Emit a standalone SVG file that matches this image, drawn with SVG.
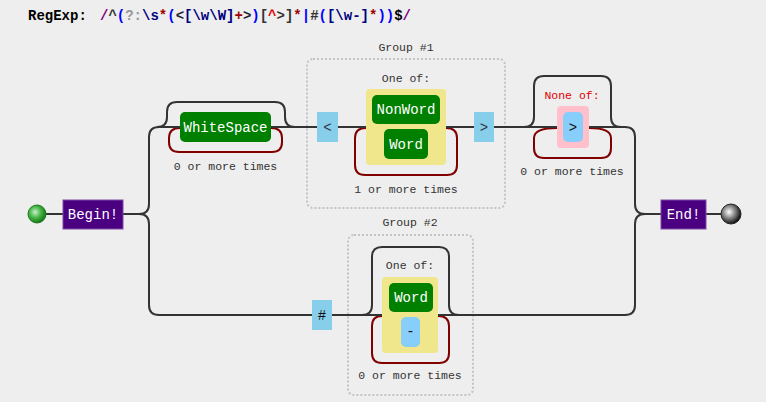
<svg xmlns="http://www.w3.org/2000/svg" width="766" height="402" viewBox="0 0 766 402">
<defs>
<radialGradient id="gStart" cx="0.4" cy="0.4" r="0.6"><stop offset="0" stop-color="#c8f0c8"/><stop offset="0.5" stop-color="#4cb84c"/><stop offset="1" stop-color="#137a13"/></radialGradient>
<radialGradient id="gEnd" cx="0.4" cy="0.4" r="0.6"><stop offset="0" stop-color="#ffffff"/><stop offset="0.5" stop-color="#888"/><stop offset="1" stop-color="#111"/></radialGradient>
<style>
.ln{fill:none;stroke:#333;stroke-width:2}
.lp{fill:none;stroke:#800000;stroke-width:2}
.grp{fill:none;stroke:#c4c4c4;stroke-width:2;stroke-dasharray:2 2}
.lbl{font-family:"Liberation Mono",monospace;font-size:14px;fill:#fff;text-anchor:middle}
.sm{font-family:"Liberation Mono",monospace;font-size:11.5px;fill:#333;text-anchor:middle}
.ch{font-family:"Liberation Mono",monospace;font-size:14px;fill:#334;text-anchor:middle}
.hd{font-family:"Liberation Mono",monospace;font-size:14px;font-weight:bold}
.term{fill:#4b0082;stroke:#7a4aa0;stroke-width:1}
.grn{fill:#008000}
.sky{fill:#87ceeb}
.lsky{fill:#87cefa}
.kh{fill:#f0e68c}
</style>
</defs>
<rect width="766" height="402" fill="#eeeeee"/>
<text class="hd" x="28" y="20" fill="#000">RegExp:</text>
<text class="hd" x="100" y="20"><tspan fill="#800080">/</tspan><tspan fill="#333">^</tspan><tspan fill="#0000ff">(</tspan><tspan fill="#999">?:</tspan><tspan fill="#000080">\s</tspan><tspan fill="#a00000">*</tspan><tspan fill="#0000ff">(</tspan><tspan fill="#223">&lt;</tspan><tspan fill="#000080">[\w\W]</tspan><tspan fill="#a00000">+</tspan><tspan fill="#223">&gt;</tspan><tspan fill="#0000ff">)</tspan><tspan fill="#333">[</tspan><tspan fill="#e00000">^</tspan><tspan fill="#333">&gt;]</tspan><tspan fill="#a00000">*</tspan><tspan fill="#0000ff">|</tspan><tspan fill="#333">#</tspan><tspan fill="#0000ff">(</tspan><tspan fill="#000080">[\w-]</tspan><tspan fill="#a00000">*</tspan><tspan fill="#0000ff">))</tspan><tspan fill="#000">$</tspan><tspan fill="#800080">/</tspan></text>

<g id="group1"><rect class="grp" x="307" y="59" width="198" height="149" rx="6"/><text class="sm" x="406" y="51">Group #1</text></g>
<g id="group2"><rect class="grp" x="348" y="235" width="125" height="160" rx="6"/><text class="sm" x="410" y="226">Group #2</text></g>

<g id="connectors">
<path class="lp" d="M271,128 Q282,128 282,138 V142 Q282,152 272,152 H179 Q169,152 169,142 V138 Q169,128 180,128"/>
<path class="lp" d="M446,128 Q457,128 457,138 V165 Q457,175 447,175 H365 Q355,175 355,165 V138 Q355,128 366,128"/>
<path class="lp" d="M589,128 Q611,128 611,138 V148 Q611,158 601,158 H544 Q534,158 534,148 V138 Q534,128 557,128"/>
<path class="lp" d="M438,316 Q449,316 449,326 V353 Q449,363 439,363 H382 Q372,363 372,353 V326 Q372,316 382,316"/>
<path class="ln" d="M46,214 H63"/>
<path class="ln" d="M123,214 H139 Q149,214 149,204 V137 Q149,127 159,127 H180"/>
<path class="ln" d="M139,214 Q149,214 149,224 V305 Q149,315 159,315 H312"/>
<path class="ln" d="M157,127 Q167,127 167,117 V112 Q167,102 177,102 H275 Q285,102 285,112 V117 Q285,127 295,127"/>
<path class="ln" d="M271,127 H317 M338,127 H366 M446,127 H474 M494,127 H557 M589,127 H625 Q635,127 635,137 V204 Q635,214 645,214 H661"/>
<path class="ln" d="M524,127 Q534,127 534,117 V86 Q534,76 544,76 H601 Q611,76 611,86 V117 Q611,127 621,127"/>
<path class="ln" d="M332,315 H382 M438,315 H625 Q635,315 635,305 V224 Q635,214 645,214"/>
<path class="ln" d="M362,315 Q372,315 372,305 V257 Q372,247 382,247 H439 Q449,247 449,257 V305 Q449,315 459,315"/>
<path class="ln" d="M706,214 H721"/>
</g>

<g id="start"><circle cx="37" cy="214" r="9" fill="url(#gStart)" stroke="#1a7a1a" stroke-width="1"/></g>
<g id="begin"><rect class="term" x="63" y="200" width="60" height="29"/><text class="lbl" x="93" y="219">Begin!</text></g>
<g id="whitespace"><rect class="grn" x="180" y="112" width="91" height="30" rx="5"/><text class="lbl" x="225.5" y="132">WhiteSpace</text><text class="sm" x="225.5" y="170">0 or more times</text></g>
<g id="lt"><rect class="sky" x="317" y="112" width="21" height="30"/><text class="ch" x="327.5" y="132">&lt;</text></g>
<g id="oneof1"><text class="sm" x="406" y="82">One of:</text><rect class="kh" x="366" y="89" width="80" height="76" rx="4"/>
<rect class="grn" x="372" y="95" width="68" height="29" rx="5"/><text class="lbl" x="406" y="114">NonWord</text>
<rect class="grn" x="384" y="129" width="44" height="30" rx="5"/><text class="lbl" x="406" y="149">Word</text>
<text class="sm" x="406" y="193">1 or more times</text></g>
<g id="gt"><rect class="sky" x="474" y="112" width="20" height="30"/><text class="ch" x="484" y="132">&gt;</text></g>
<g id="noneof"><text class="sm" x="572" y="99" style="fill:#e00000">None of:</text><rect x="557" y="106" width="32" height="42" rx="4" fill="#ffc0cb"/><rect class="lsky" x="563" y="112" width="20" height="30" rx="5"/><text class="ch" x="573" y="132" style="fill:#111">&gt;</text><text class="sm" x="572" y="175">0 or more times</text></g>
<g id="hash"><rect class="sky" x="312" y="300" width="20" height="30"/><text class="ch" x="322" y="320" style="fill:#111">#</text></g>
<g id="oneof2"><text class="sm" x="410" y="269">One of:</text><rect class="kh" x="382" y="277" width="56" height="76" rx="4"/>
<rect class="grn" x="389" y="283" width="44" height="29" rx="5"/><text class="lbl" x="411" y="302">Word</text>
<rect class="lsky" x="401" y="317" width="19" height="30" rx="5"/><text class="ch" x="410.5" y="336" style="fill:#111">-</text>
<text class="sm" x="410" y="379">0 or more times</text></g>
<g id="end"><rect class="term" x="661" y="200" width="45" height="29"/><text class="lbl" x="683.5" y="219">End!</text></g>
<g id="finish"><circle cx="731" cy="214" r="10" fill="url(#gEnd)" stroke="#222" stroke-width="1"/></g>
</svg>
